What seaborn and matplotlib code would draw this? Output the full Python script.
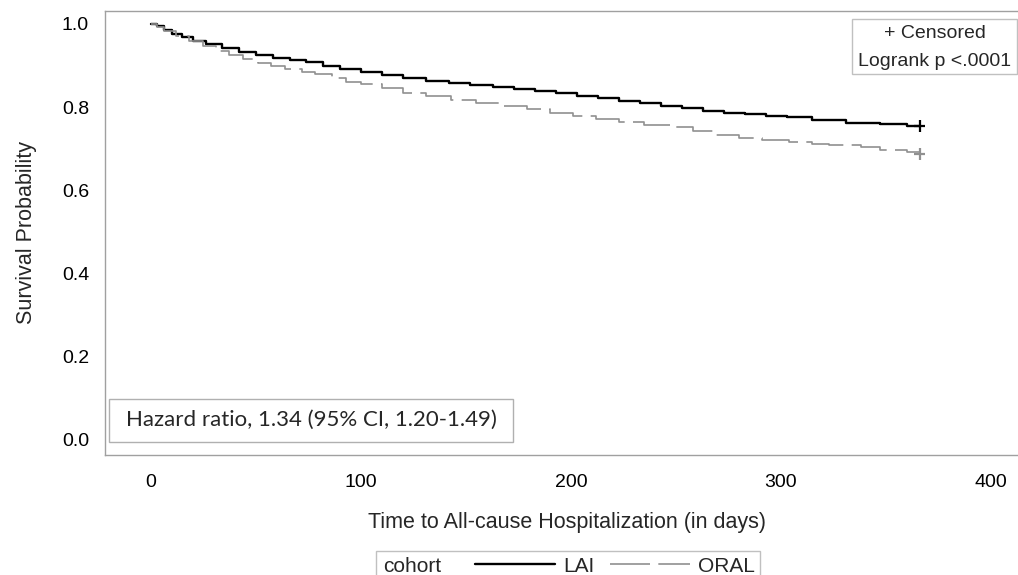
import numpy as np
import pandas as pd
import matplotlib
matplotlib.use("Agg")
import matplotlib.pyplot as plt
import seaborn as sns
from matplotlib.lines import Line2D
from matplotlib.patches import Rectangle

# ---- data ----
lai_days = [0, 3, 6, 10, 15, 20, 26, 34, 42, 50, 58, 66, 74, 82, 90, 100, 110, 120, 131, 142,
            152, 163, 173, 183, 193, 203, 213, 223, 233, 243, 253, 263, 273, 283, 293, 303,
            315, 331, 347, 360, 366]
lai_surv = [1.0, 0.995, 0.986, 0.976, 0.968, 0.960, 0.951, 0.942, 0.932, 0.925, 0.919, 0.913,
            0.908, 0.900, 0.893, 0.884, 0.877, 0.870, 0.864, 0.859, 0.854, 0.849, 0.843, 0.838,
            0.833, 0.828, 0.822, 0.816, 0.810, 0.804, 0.798, 0.792, 0.787, 0.783, 0.780, 0.777,
            0.769, 0.763, 0.759, 0.755, 0.755]
oral_days = [0, 3, 6, 12, 18, 25, 31, 37, 44, 51, 57, 64, 72, 78, 86, 93, 100, 110, 120, 131,
             143, 155, 167, 179, 190, 201, 212, 223, 235, 247, 258, 269, 280, 291, 304, 315,
             323, 338, 347, 360, 366]
oral_surv = [1.0, 0.992, 0.984, 0.972, 0.960, 0.946, 0.934, 0.925, 0.915, 0.906, 0.900, 0.892,
             0.884, 0.880, 0.870, 0.861, 0.855, 0.845, 0.834, 0.826, 0.818, 0.811, 0.803, 0.795,
             0.787, 0.779, 0.771, 0.764, 0.758, 0.752, 0.742, 0.733, 0.727, 0.721, 0.717, 0.712,
             0.709, 0.704, 0.698, 0.692, 0.688]
cohorts = ["LAI", "ORAL"]
censor_days = [366, 366]
censor_surv = [0.755, 0.688]
x_ticks = [0, 100, 200, 300, 400]
y_ticks = [0.0, 0.2, 0.4, 0.6, 0.8, 1.0]

df = pd.concat([
    pd.DataFrame({"day": lai_days, "surv": lai_surv, "cohort": "LAI"}),
    pd.DataFrame({"day": oral_days, "surv": oral_surv, "cohort": "ORAL"}),
])
cens = pd.DataFrame({"day": censor_days, "surv": censor_surv, "cohort": cohorts})

sns.set_style("white")
plt.rcParams["font.family"] = ["Liberation Sans", "DejaVu Sans"]

W, H = 1018, 575
fig = plt.figure(figsize=(W / 100, H / 100), dpi=100)
ax = fig.add_axes([105 / W, 1 - 455 / H, (1030 - 105) / W, (455 - 11) / H])

palette = {"LAI": "black", "ORAL": "#909090"}
sns.lineplot(data=df, x="day", y="surv", hue="cohort", style="cohort", palette=palette,
             dashes={"LAI": "", "ORAL": (24, 5)}, drawstyle="steps-post",
             estimator=None, sort=True, legend=False, ax=ax)
lw = {"LAI": 1.7, "ORAL": 1.2}
for line, c in zip(ax.lines, cohorts):
    line.set_linewidth(lw[c])

sns.scatterplot(data=cens, x="day", y="surv", hue="cohort", palette=palette, marker="+",
                s=70, linewidth=1.6, legend=False, ax=ax, zorder=5)

x0 = -21.9
ax.set_xlim(x0, x0 + (1030 - 105) / 2.1)
ax.set_ylim(-15 / 416, 1 + 13 / 416)
ax.set_xticks(x_ticks)
ax.set_yticks(y_ticks)
ax.set_xticklabels([str(v) for v in x_ticks])
ax.set_yticklabels([f"{v:.1f}" for v in y_ticks])
for s in ax.spines.values():
    s.set_color("#a0a0a0")
    s.set_linewidth(1.0)
ax.spines["right"].set_visible(False)
ax.tick_params(axis="both", direction="out", length=6.5, width=1.0, color="#a0a0a0",
               labelsize=14, labelcolor="black")
ax.tick_params(axis="x", pad=7.5)
ax.tick_params(axis="y", pad=5)
ax.set_xlabel("Time to All-cause Hospitalization (in days)", fontsize=15.5, labelpad=15)
ax.set_ylabel("Survival Probability", fontsize=15.5, labelpad=18)

def px(x, y):
    return x / W, 1 - y / H

# top-right inset box
fig.patches.append(Rectangle(px(852, 74), (1017 - 852) / W, (74 - 19) / H,
                             transform=fig.transFigure, fc="white", ec="#c0c0c0", lw=1.0,
                             zorder=3))
fig.text(*px(935, 33), "+ Censored", ha="center", va="center", fontsize=14, zorder=4)
fig.text(*px(935, 61), "Logrank p <.0001", ha="center", va="center", fontsize=14, zorder=4)

# hazard ratio box
fig.patches.append(Rectangle(px(109, 442), (513 - 109) / W, (442 - 399) / H,
                             transform=fig.transFigure, fc="white", ec="#b0b0b0", lw=1.0,
                             zorder=3))
fig.text(*px(311, 420), "Hazard ratio, 1.34 (95% CI, 1.20-1.49)", ha="center",
         va="center", fontsize=16, family=["Lato", "DejaVu Sans"], zorder=4)

# bottom legend
fig.patches.append(Rectangle(px(376, 580), (760 - 376) / W, (580 - 551) / H,
                             transform=fig.transFigure, fill=False, ec="#c0c0c0", lw=1.0))
fig.text(*px(383, 566), "cohort", ha="left", va="center", fontsize=15)
handles = [Line2D([], [], color="black", lw=1.7),
           Line2D([], [], color="#909090", lw=1.2, dashes=(24, 5))]
leg = fig.legend(handles, cohorts, ncol=2, frameon=False, fontsize=15,
                 loc="center left", bbox_to_anchor=px(475, 566),
                 handlelength=3.84, handletextpad=0.38, columnspacing=0.77,
                 borderpad=0, borderaxespad=0)

fig.savefig("out.png", dpi=100)
